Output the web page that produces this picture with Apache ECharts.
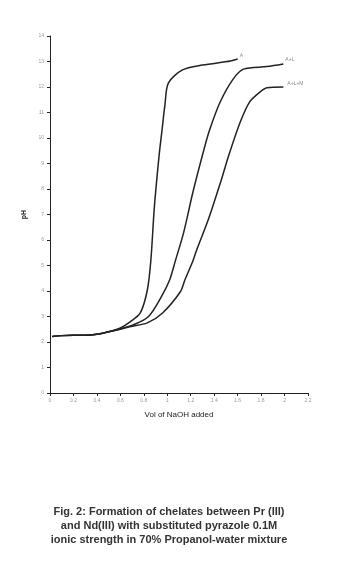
<!DOCTYPE html>
<html>
<head>
<meta charset="utf-8">
<script src="https://cdn.jsdelivr.net/npm/echarts@6/dist/echarts.min.js"></script>
<style>
html,body{margin:0;padding:0;background:#fff;}
#chart{width:338px;height:567px;}
</style>
</head>
<body>
<div id="chart"></div>
<script>
const seriesNames = ['A', 'A+L', 'A+L+M'];
const volA = [0.02,0.1,0.2,0.3,0.4,0.5,0.6,0.68,0.77,0.83,0.86,0.89,0.93,0.955,0.98,1.01,1.13,1.3,1.54,1.6];
const phA  = [2.22,2.25,2.26,2.26,2.3,2.4,2.55,2.78,3.14,4.04,5.2,7.3,9.3,10.3,11.3,12.16,12.67,12.86,13.02,13.1];
const volAL = [0.02,0.1,0.2,0.3,0.4,0.5,0.6,0.71,0.84,0.95,1.02,1.07,1.14,1.22,1.31,1.36,1.45,1.56,1.65,1.85,1.99];
const phAL  = [2.22,2.25,2.26,2.26,2.3,2.4,2.52,2.67,3.0,3.78,4.43,5.2,6.3,7.9,9.5,10.3,11.4,12.3,12.7,12.8,12.9];
const volALM = [0.02,0.1,0.2,0.3,0.4,0.5,0.6,0.68,0.83,0.96,1.11,1.15,1.22,1.25,1.35,1.45,1.53,1.62,1.7,1.79,1.85,1.99];
const phALM  = [2.22,2.25,2.26,2.26,2.3,2.4,2.5,2.6,2.75,3.14,3.96,4.43,5.2,5.6,6.8,8.2,9.4,10.6,11.4,11.8,11.97,12.0];
const xTicks = [0,0.2,0.4,0.6,0.8,1,1.2,1.4,1.6,1.8,2,2.2];
const yTicks = [0,1,2,3,4,5,6,7,8,9,10,11,12,13,14];
const captionLines = [
  'Fig. 2: Formation of chelates between Pr (III)',
  'and Nd(III) with substituted pyrazole 0.1M',
  'ionic strength in 70% Propanol-water mixture'
];

const zip = (xs, ys) => xs.map((x, i) => [x, ys[i]]);
const allData = [zip(volA, phA), zip(volAL, phAL), zip(volALM, phALM)];
const labelOffsets = [[0, -3], [0, -4], [2, -3]];

const chart = echarts.init(document.getElementById('chart'));
chart.setOption({
  animation: false,
  backgroundColor: '#fff',
  grid: { left: 50, right: 30, top: 36, bottom: 174, containLabel: false },
  xAxis: {
    type: 'value', min: 0, max: 2.2, interval: 0.2,
    name: 'Vol of NaOH added', nameLocation: 'middle', nameGap: 18,
    nameTextStyle: { fontFamily: 'Liberation Sans', fontSize: 8, color: '#222' },
    axisLine: { show: true, lineStyle: { color: '#222', width: 1 } },
    axisTick: { show: true, length: 3, inside: false, lineStyle: { color: '#222' } },
    axisLabel: { fontSize: 5, color: '#999', margin: 5, fontFamily: 'Liberation Sans',
      formatter: v => { const t = xTicks.find(k => Math.abs(k - v) < 1e-6); return t === undefined ? '' : String(t); } },
    splitLine: { show: false }
  },
  yAxis: {
    type: 'value', min: 0, max: 14, interval: 1,
    name: 'pH', nameLocation: 'middle', nameGap: 17, nameRotate: 90,
    nameTextStyle: { fontFamily: 'Liberation Sans', fontSize: 7, fontWeight: 'bold', color: '#222' },
    axisLine: { show: true, lineStyle: { color: '#222', width: 1 } },
    axisTick: { show: true, length: 3, lineStyle: { color: '#222' } },
    axisLabel: { fontSize: 5, color: '#999', margin: 6, fontFamily: 'Liberation Sans',
      formatter: v => yTicks.includes(v) ? String(v) : '' },
    splitLine: { show: false }
  },
  series: seriesNames.map((n, i) => ({
    name: n, type: 'line', data: allData[i], showSymbol: false, smooth: 0.3,
    lineStyle: { color: '#222', width: 1.5 },
    endLabel: { show: true, formatter: n, fontSize: 5, color: '#888', fontFamily: 'Liberation Sans', distance: 2, offset: labelOffsets[i] }
  })),
  graphic: captionLines.map((t, i) => ({
    type: 'text', left: 'center', top: 506 + i * 14,
    style: { text: t, font: 'bold 11px "Liberation Sans"', fill: '#333' }
  }))
});
</script>
</body>
</html>
